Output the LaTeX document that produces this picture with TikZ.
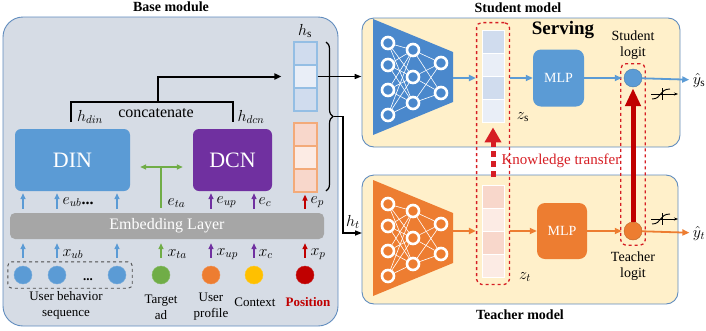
\RequirePackage{fix-cm}
\documentclass[tikz,border=0pt]{standalone}
\usepackage{fontspec}
\setmainfont{Liberation Serif}
\usetikzlibrary{arrows.meta,positioning,fit,calc,decorations.pathreplacing}
\definecolor{panelgray}{RGB}{214,220,229}
\definecolor{panelline}{RGB}{96,140,190}
\definecolor{servecream}{RGB}{255,240,202}
\definecolor{dinblue}{RGB}{91,155,213}
\definecolor{netblue}{RGB}{74,136,204}
\definecolor{dcnpurple}{RGB}{112,48,160}
\definecolor{featorange}{RGB}{237,125,49}
\definecolor{featgreen}{RGB}{112,173,71}
\definecolor{featyellow}{RGB}{255,192,0}
\definecolor{posred}{RGB}{192,0,0}
\definecolor{ktred}{RGB}{214,30,36}
\definecolor{embgray}{RGB}{166,166,166}
\definecolor{cellblue}{RGB}{208,220,238}
\definecolor{cellbluelt}{RGB}{233,238,247}
\definecolor{cellorange}{RGB}{248,215,203}
\definecolor{cellorangelt}{RGB}{252,235,228}

\begin{document}
\begin{tikzpicture}[x=1pt, y=-1pt, font=\fontsize{16}{18}\selectfont,
    panel/.style={draw=panelline, line width=0.9, inner sep=0},
    module/.style={rounded corners=6, inner sep=0, text=white},
    feat/.style={circle, minimum size=18, inner sep=0},
    cell/.style={minimum width=23, minimum height=23, inner sep=0, line width=1.2},
    neuron/.style={circle, draw=white, line width=2.6, minimum size=12, inner sep=0},
    sarr/.style={-{Triangle[length=6,width=5]}, line width=1.4},
    rowarr/.style={-{Triangle[length=7,width=6]}, line width=1.8},
    lbl/.style={font=\fontsize{13}{16}\selectfont, align=center},
    ttl/.style={font=\bfseries\fontsize{14}{16}\selectfont},
    redbox/.style={draw=ktred, dashed, line width=1.3, rounded corners=5}]
        \useasboundingbox (0,0) rectangle (706,330);

        % base module
        \node[panel, fill=panelgray, minimum width=335, minimum height=309, rounded corners=20] (base) at (170.5,171.5) {};
        \node[ttl] (basetitle) at (171,7) {Base module};

        \foreach \y/\f [count=\i] in {53.5/cellblue, 76.5/cellbluelt, 99.5/cellblue}
            \node[cell, draw=dinblue!65, fill=\f] (hs\i) at (305.5,\y) {};
        \foreach \y/\f [count=\i] in {134.5/cellorange, 157.5/cellorangelt, 180.5/cellorange}
            \node[cell, draw=featorange!65, fill=\f] (hp\i) at (305.5,\y) {};
        \node (hslbl) at (305,31) {$h_{\mathrm{s}}$};

        \node[module, fill=dinblue, minimum width=115, minimum height=62, font=\fontsize{22}{24}\selectfont] (din) at (72.5,160) {DIN};
        \node[module, fill=dcnpurple, minimum width=79, minimum height=62, font=\fontsize{22}{24}\selectfont] (dcn) at (232.5,160) {DCN};
        \node[module, fill=embgray, rounded corners=5, minimum width=314, minimum height=26] (emb) at (167,226) {Embedding Layer};

        % concatenate
        \coordinate (cl) at (71,122);
        \coordinate (cr) at (233,122);
        \coordinate (cc) at (158,102);
        \draw[line width=2] (cl) -- ++(0,-20) -| (cr);
        \draw[-{Triangle[length=7,width=6]}, line width=2, shorten >=12] (cc) |- (hs2.west);
        \node (hdin) at (90,117) {$h_{din}$};
        \node (concat) at (156,113) {concatenate};
        \node (hdcn) at (251,117) {$h_{dcn}$};

        % features
        \foreach \n/\x/\c in {ub1/23/dinblue, ub2/57/dinblue, ub3/117/dinblue, ta/161/featgreen, up/211/featorange, c/254/featyellow, p/305/posred}
            \node[feat, fill=\c, draw=\c!85!white] (f-\n) at (\x,275) {};
        \node[draw=black!70, dashed, line width=0.9, rounded corners=4, fit=(f-ub1)(f-ub3), inner xsep=6, inner ysep=4] (ubbox) {};
        \node[font=\bfseries\fontsize{13}{15}\selectfont] (ubdots) at (88,280) {...};

        \foreach \n/\c in {ub1/dinblue, ub2/dinblue, ub3/dinblue, ta/featgreen, up/dcnpurple, c/dcnpurple, p/posred}
            \draw[sarr, \c, shorten <=8, shorten >=4] (f-\n) -- (f-\n |- emb.south);
        \foreach \n/\c/\tgt in {ub1/dinblue/din, ub2/dinblue/din, ub3/dinblue/din, up/dcnpurple/dcn, c/dcnpurple/dcn, p/posred/hp3}
            \draw[sarr, \c, shorten <=4, shorten >=2] (emb.north -| f-\n) -- (\tgt.south -| f-\n);

        % target ad goes to both
        \coordinate (eta) at (161,167);
        \draw[featgreen, line width=1.4, shorten <=5] (emb.north -| eta) -- (eta);
        \draw[{Triangle[length=6,width=5]}-{Triangle[length=6,width=5]}, featgreen, line width=1.4, shorten <=10, shorten >=10] (din.east |- eta) -- (dcn.west |- eta);

        \node[anchor=west] (eub) at (59,202) {$e_{ub}$\textbf{...}};
        \node[anchor=west] (eta-l) at (164,203) {$e_{ta}$};
        \node[anchor=west] (eup) at (213,202) {$e_{up}$};
        \node[anchor=west] (ec) at (255,202) {$e_{c}$};
        \node[anchor=west] (ep) at (307,202) {$e_{p}$};
        \node[anchor=west] (xub) at (59,254) {$x_{ub}$};
        \node[anchor=west] (xta) at (164,254) {$x_{ta}$};
        \node[anchor=west] (xup) at (213,254) {$x_{up}$};
        \node[anchor=west] (xc) at (255,254) {$x_{c}$};
        \node[anchor=west] (xp) at (307,254) {$x_{p}$};

        \node[lbl] (ubtxt) at (66,305) {User behavior\\sequence};
        \node[lbl] (tatxt) at (161,307) {Target\\ad};
        \node[lbl] (uptxt) at (211,307) {User\\profile};
        \node[lbl] (ctxt) at (255,302) {Context};
        \node[lbl, text=posred, font=\bfseries\fontsize{13}{16}\selectfont] (ptxt) at (308,302) {Position};

        % student and teacher
        \node[panel, fill=servecream, minimum width=318, minimum height=129, rounded corners=12] (spanel) at (521,82.5) {};
        \node[panel, fill=servecream, minimum width=316, minimum height=129, rounded corners=12] (tpanel) at (520,239.5) {};
        \node[ttl] (stitle) at (518,8) {Student model};
        \node[ttl] (ttitle) at (520,315) {Teacher model};
        \node[font=\bfseries\fontsize{19}{21}\selectfont] (serving) at (563,30) {Serving};

        % brace and inputs
        \draw[decorate, decoration={brace, amplitude=7}, line width=1.2] (326,42) -- (326,191);
        \coordinate (brtip) at (334,116.5);
        \coordinate (tin) at (362,233);
        \draw[-{Triangle[length=7,width=5]}, line width=1.5] (hs2.east) -- (hs2.east -| spanel.west);
        \draw[-{Triangle[length=7,width=5]}, line width=1.5] (brtip) -- ++(9,0) |- (tin);
        \node (htlbl) at (353,222) {$h_t$};

        % networks
        \foreach \n/\dy/\c in {s/0/netblue, t/161/featorange} {
            \fill[\c] (373,19+\dy) -- (453,52+\dy) -- (453,102+\dy) -- (373,135+\dy) -- cycle;
            \foreach \y [count=\i] in {43,65,90,115}
                \node[neuron, fill=\c] (\n-a\i) at (388,\y+\dy) {};
            \foreach \y [count=\i] in {50,77,103}
                \node[neuron, fill=\c] (\n-b\i) at (413,\y+\dy) {};
            \foreach \y [count=\i] in {63,93}
                \node[neuron, fill=\c] (\n-c\i) at (441,\y+\dy) {};
            \foreach \i in {1,...,4}
                \foreach \j in {1,2,3}
                    \draw[white, line width=0.6] (\n-a\i) -- (\n-b\j);
            \foreach \i in {1,2,3}
                \foreach \j in {1,2}
                    \draw[white, line width=0.6] (\n-b\i) -- (\n-c\j);
        }
        \coordinate (s-net) at (453,78);
        \coordinate (t-net) at (453,231);

        % logits vectors
        \foreach \y/\f [count=\i] in {41.5/cellblue, 64.5/cellbluelt, 87.5/cellblue, 110.5/cellbluelt}
            \node[cell, minimum width=22, draw=white, line width=0.8, fill=\f] (zs\i) at (493,\y) {};
        \foreach \y/\f [count=\i] in {196.5/cellorange, 219.5/cellorangelt, 242.5/cellorange, 265.5/cellorangelt}
            \node[cell, minimum width=22, draw=white, line width=0.8, fill=\f] (zt\i) at (493,\y) {};
        \node[redbox, fit=(zs1)(zt4), inner xsep=5, inner ysep=7] (ktbox) {};
        \node (zslbl) at (523,117) {$z_{\mathrm{s}}$};
        \node (ztlbl) at (525,277) {$z_t$};

        \node[module, fill=dinblue, rounded corners=8, minimum width=51, minimum height=57, font=\fontsize{14}{16}\selectfont] (smlp) at (558.5,78) {MLP};
        \node[module, fill=featorange, rounded corners=8, minimum width=50, minimum height=56, font=\fontsize{14}{16}\selectfont] (tmlp) at (562,231) {MLP};

        \node[feat, fill=dinblue, draw=dinblue!80!black] (slogit) at (633,78) {};
        \node[feat, fill=featorange, draw=featorange!80!black] (tlogit) at (633,231) {};
        \node[redbox, fit=(slogit)(tlogit), inner xsep=3, inner ysep=5] (logitbox) {};
        \node[align=center, font=\fontsize{14}{16}\selectfont] (slbl) at (633,45) {Student\\logit};
        \node[align=center, font=\fontsize{14}{16}\selectfont] (tlbl) at (633,266) {Teacher\\logit};

        \node (yhs) at (699,80) {$\hat{y}_{\mathrm{s}}$};
        \node (yht) at (699,233) {$\hat{y}_t$};

        \draw[rowarr, dinblue] (s-net) -- (s-net -| ktbox.west);
        \draw[rowarr, dinblue] (ktbox.east |- smlp) -- (smlp);
        \draw[rowarr, dinblue, shorten >=2] (smlp) -- (slogit);
        \draw[rowarr, dinblue] (slogit) -- (yhs);
        \draw[rowarr, featorange] (t-net) -- (t-net -| ktbox.west);
        \draw[rowarr, featorange] (ktbox.east |- tmlp) -- (tmlp);
        \draw[rowarr, featorange, shorten >=2] (tmlp) -- (tlogit);
        \draw[rowarr, featorange] (tlogit) -- (yht);

        % knowledge transfer
        \draw[ktred, line width=5, dash pattern=on 6 off 4, -{Triangle[length=15,width=16]}, shorten <=8, shorten >=5] (zt1.north) -- (zs4.south);
        \node[text=ktred, font=\fontsize{15}{17}\selectfont] (kt) at (561,161) {Knowledge transfer};
        \draw[posred, line width=5, -{Triangle[length=18,width=15]}, shorten >=1] (tlogit.north) -- (slogit.south);

        % sigmoid marks
        \foreach \y in {94,219} {
            \draw[line width=0.9, -{Stealth[length=4,width=3]}] (651,\y) -- (678,\y);
            \draw[line width=0.9] (652,\y+5) .. controls (662,\y+5) and (659,\y-5) .. (670,\y-5);
            \draw[line width=0.9] (662,\y-6) -- (662,\y+6);
        }
      \end{tikzpicture}
\end{document}
